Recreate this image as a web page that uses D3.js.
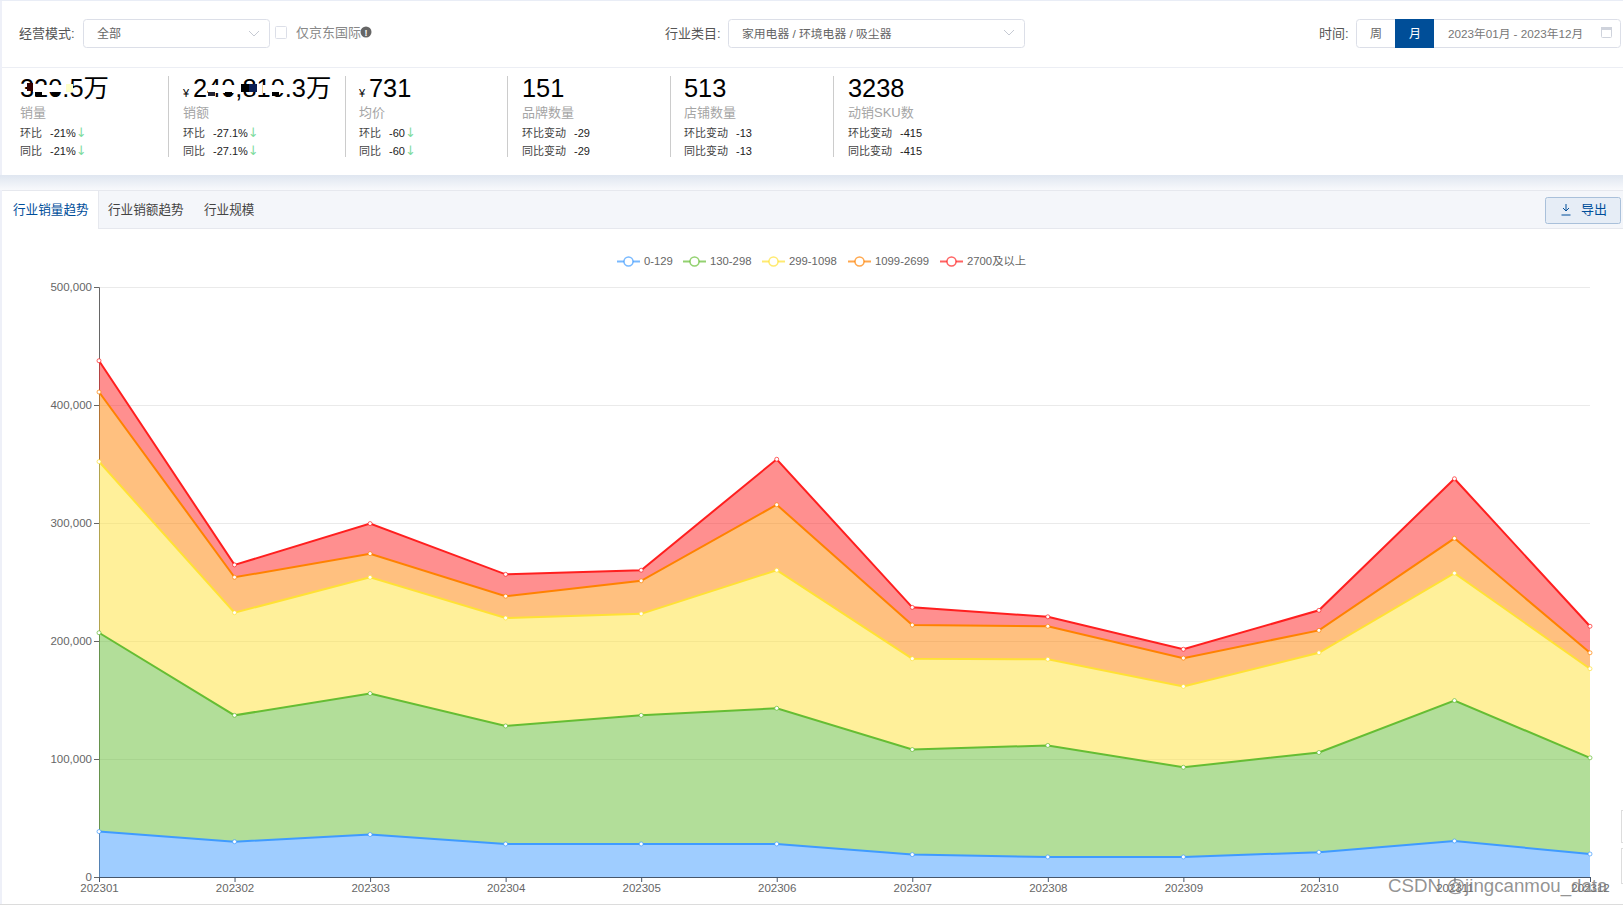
<!DOCTYPE html>
<html>
<head>
<meta charset="utf-8">
<script src="https://cdn.jsdelivr.net/npm/d3@7/dist/d3.min.js"></script>
<style>
	html, body { margin: 0; padding: 0; background: #fff; overflow: hidden; }
	svg { display: block; }
	text { font-family: "Liberation Sans", "Noto Sans CJK SC", sans-serif; }
</style>
</head>
<body>
<div id="chart"></div>
<script>
// chart data
var months = ["202301", "202302", "202303", "202304", "202305", "202306", "202307", "202308", "202309", "202310", "202311", "202312"];
var priceBands = ["0-129", "130-298", "299-1098", "1099-2699", "2700及以上"];
var band0 = [38500, 29900, 36000, 28000, 28000, 28000, 19000, 17000, 17000, 21000, 30500, 19500];
var band1 = [168500, 107100, 119500, 100000, 109000, 115000, 89000, 94500, 76000, 84500, 119000, 81500];
var band2 = [145000, 87000, 98500, 91500, 86000, 117000, 77000, 73000, 68500, 84500, 108000, 75500];
var band3 = [59000, 30000, 20000, 18500, 28000, 55500, 28500, 28000, 24000, 19000, 29500, 13500];
var band4 = [26500, 10500, 25500, 18500, 9000, 38500, 15000, 8000, 7500, 17000, 50500, 22500];
var yTicks = [0, 100000, 200000, 300000, 400000, 500000];

// text of the summary cards
var statValues = ["320.5万", "240,810.3万", "731", "151", "513", "3238"];
var statPrefix = ["", "¥", "¥", "", "", ""];
var statNames = ["销量", "销额", "均价", "品牌数量", "店铺数量", "动销SKU数"];
var statRow1 = ["环比", "环比", "环比", "环比变动", "环比变动", "环比变动"];
var statRow2 = ["同比", "同比", "同比", "同比变动", "同比变动", "同比变动"];
var statDelta = ["-21%", "-27.1%", "-60", "-29", "-13", "-415"];
var tabNames = ["行业销量趋势", "行业销额趋势", "行业规模"];

var width = 1623;
var height = 905;
var margin = { top: 287, right: 33, bottom: 28, left: 99 };

var lineColors = ["#3f9bff", "#65bd33", "#ffe135", "#ff8200", "#ff1f1f"];
var bandSeries = [band0, band1, band2, band3, band4];

var svg = d3.select("#chart").append("svg")
	.attr("width", width)
	.attr("height", height);

function label(parent, x, y, str, size, color, anchor) {
	return parent.append("text")
		.attr("x", x)
		.attr("y", y)
		.attr("font-size", size)
		.attr("fill", color)
		.attr("text-anchor", anchor || "start")
		.text(str);
}

function box(parent, x, y, w, h, fill, stroke, r) {
	return parent.append("rect")
		.attr("x", x + 0.5)
		.attr("y", y + 0.5)
		.attr("width", w)
		.attr("height", h)
		.attr("rx", r || 0)
		.attr("fill", fill)
		.attr("stroke", stroke);
}

// page frame and the filter panel with its shadow
var defs = svg.append("defs");
var shadow = defs.append("linearGradient").attr("id", "panelShadow")
	.attr("x1", 0).attr("x2", 0).attr("y1", 0).attr("y2", 1);
shadow.append("stop").attr("offset", 0).attr("stop-color", "#dfe6f0");
shadow.append("stop").attr("offset", 1).attr("stop-color", "#f8f9fc");

svg.append("rect").attr("width", width).attr("height", height).attr("fill", "#fff");
svg.append("rect").attr("x", 0).attr("y", 0).attr("width", 2).attr("height", height).attr("fill", "#eef0f8");
svg.append("rect").attr("x", 0).attr("y", 0).attr("width", width).attr("height", 1).attr("fill", "#e9edf6");
svg.append("rect").attr("x", 0).attr("y", 175).attr("width", width).attr("height", 15).attr("fill", "url(#panelShadow)");
svg.append("rect").attr("x", 0).attr("y", 904).attr("width", width).attr("height", 1).attr("fill", "#dcdcdc");
svg.append("line").attr("x1", 2).attr("x2", width).attr("y1", 67.5).attr("y2", 67.5).attr("stroke", "#eceef4");

var filters = svg.append("g");
function chevron(x, y) {
	filters.append("path")
		.attr("d", "M" + (x - 5) + "," + (y - 3) + "L" + x + "," + (y + 2) + "L" + (x + 5) + "," + (y - 3))
		.attr("fill", "none")
		.attr("stroke", "#c6cad3");
}

label(filters, 19, 38, "经营模式:", 13, "#555");
box(filters, 83, 19, 186, 28, "#fff", "#dcdfe8", 3);
label(filters, 97, 38, "全部", 12, "#666");
chevron(254, 34);
box(filters, 275, 26, 11, 12, "#fff", "#dcdfe8", 1);
label(filters, 296, 37, "仅京东国际", 13, "#888");
filters.append("circle").attr("cx", 366).attr("cy", 32).attr("r", 5.5).attr("fill", "#666");
label(filters, 366, 36, "!", 9, "#fff", "middle").attr("font-weight", "bold");

label(filters, 665, 38, "行业类目:", 13, "#555");
box(filters, 728, 19, 296, 28, "#fff", "#dcdfe8", 3);
label(filters, 742, 38, "家用电器 / 环境电器 / 吸尘器", 11.8, "#666");
chevron(1009, 33);

label(filters, 1319, 38, "时间:", 13, "#555");
box(filters, 1356, 19, 264, 28, "#fff", "#dcdfe8", 3);
filters.append("rect").attr("x", 1395).attr("y", 19).attr("width", 39).attr("height", 29).attr("fill", "#004e98");
label(filters, 1376, 38, "周", 12, "#666", "middle");
label(filters, 1415, 38, "月", 12, "#fff", "middle");
label(filters, 1448, 38, "2023年01月 - 2023年12月", 11.7, "#777");
box(filters, 1601, 27, 10, 10, "none", "#cfd3dc", 1);
filters.append("rect").attr("x", 1601).attr("y", 27).attr("width", 11).attr("height", 3).attr("fill", "#cfd3dc");

// summary cards
var statX = [20, 183, 359, 522, 684, 848];
var dividerX = [168, 345, 507, 670, 833];
var cards = svg.append("g");

dividerX.forEach(function (x) {
	cards.append("line")
		.attr("x1", x + 0.5).attr("x2", x + 0.5)
		.attr("y1", 76).attr("y2", 157)
		.attr("stroke", "#ccc");
});

statValues.forEach(function (v, i) {
	var x = statX[i];
	var valueX = x;
	if (statPrefix[i]) {
		label(cards, x, 97, statPrefix[i], 11, "#000");
		valueX = x + 10;
	}
	label(cards, valueX, 97, v, 25.4, "#000");
	label(cards, x, 117, statNames[i], 13, "#a5a5a5");

	var isChange = i > 2;
	[statRow1[i], statRow2[i]].forEach(function (rowName, r) {
		var y = 137 + r * 18;
		label(cards, x, y, rowName, 11, "#444");
		var t = label(cards, x + (isChange ? 52 : 30), y, statDelta[i], 11, "#222");
		if (!isChange) {
			t.append("tspan")
				.attr("fill", "#7fdc9f")
				.attr("font-size", 13)
				.style("font-family", "'DejaVu Sans'")
				.text("↓");
		}
	});
});

// the scribbled over parts of the first two figures
var patchX = [33, 66, 27, 35, 52, 208, 241, 249, 263, 208, 225, 272];
var patchY = [85, 84, 83, 92, 92, 85, 84, 84, 85, 92, 92, 92];
var patchW = [33, 7, 6, 7, 7, 32, 8, 8, 28, 7, 7, 7];
var patchH = [7, 8, 8, 4, 4, 8, 8, 8, 8, 4, 4, 4];
var patchC = ["#fff", "#ffffc8", "#300", "#000", "#000", "#fff", "#000", "#0a1f55", "#fff", "#223", "#000", "#000"];
patchX.forEach(function (x, i) {
	cards.append("rect")
		.attr("x", x).attr("y", patchY[i])
		.attr("width", patchW[i]).attr("height", patchH[i])
		.attr("fill", patchC[i]);
});

// tab bar
var tabs = svg.append("g");
tabs.append("rect").attr("x", 2).attr("y", 190).attr("width", width - 2).attr("height", 38).attr("fill", "#f4f6fa");
tabs.append("line").attr("x1", 2).attr("x2", width).attr("y1", 190.5).attr("y2", 190.5).attr("stroke", "#e6e8ee");
tabs.append("line").attr("x1", 2).attr("x2", width).attr("y1", 228.5).attr("y2", 228.5).attr("stroke", "#e6e8ee");
tabs.append("rect").attr("x", 2).attr("y", 191).attr("width", 96).attr("height", 38).attr("fill", "#fff");
tabs.append("line").attr("x1", 98.5).attr("x2", 98.5).attr("y1", 191).attr("y2", 228).attr("stroke", "#e6e8ee");
var tabX = [13, 108, 204];
tabNames.forEach(function (n, i) {
	label(tabs, tabX[i], 214, n, 12.6, i == 0 ? "#004e9a" : "#444");
});
box(tabs, 1545, 197, 75, 26, "#e6edf6", "#a9c0da", 2);
label(tabs, 1581, 214, "导出", 13, "#004e9a");
tabs.append("path")
	.attr("d", "M1566,204v7M1563,208l3,3l3,-3M1561.500,215h9")
	.attr("fill", "none")
	.attr("stroke", "#004e9a");

// scales and axes
var xScale = d3.scalePoint()
	.domain(months)
	.range([margin.left, width - margin.right]);

var yScale = d3.scaleLinear()
	.domain([0, 500000])
	.range([height - margin.bottom, margin.top]);

var plot = svg.append("g");

// horizontal grid lines
plot.selectAll("line.grid")
	.data(yTicks.slice(1))
	.enter().append("line")
		.attr("class", "grid")
		.attr("x1", margin.left)
		.attr("x2", width - margin.right)
		.attr("y1", function (d) { return Math.round(yScale(d)) + 0.5; })
		.attr("y2", function (d) { return Math.round(yScale(d)) + 0.5; })
		.attr("stroke", "#eaeaea");

// Add the y-axis.
var yAxisG = plot.append("g")
	.attr("transform", "translate(" + margin.left + ",0)")
	.call(d3.axisLeft(yScale).tickValues(yTicks).tickFormat(d3.format(",")).tickSize(5).tickPadding(2));
yAxisG.selectAll("path, line").attr("stroke", "#666");
yAxisG.selectAll("text").attr("fill", "#666").attr("font-size", 11.5);

// stack the price bands
var rows = months.map(function (m, i) {
	var row = { month: m };
	priceBands.forEach(function (b, k) { row[b] = bandSeries[k][i]; });
	return row;
});
var stacked = d3.stack().keys(priceBands)(rows);

var area = d3.area()
	.x(function (d) { return xScale(d.data.month); })
	.y0(function (d) { return yScale(d[0]); })
	.y1(function (d) { return yScale(d[1]); });

var topLine = d3.line()
	.x(function (d) { return xScale(d.data.month); })
	.y(function (d) { return yScale(d[1]); });

plot.selectAll("path.band")
	.data(stacked)
	.enter().append("path")
		.attr("class", "band")
		.attr("d", area)
		.attr("fill", function (d, i) { return lineColors[i]; })
		.attr("fill-opacity", 0.5);

plot.selectAll("path.top")
	.data(stacked)
	.enter().append("path")
		.attr("class", "top")
		.attr("d", topLine)
		.attr("fill", "none")
		.attr("stroke", function (d, i) { return lineColors[i]; })
		.attr("stroke-width", 2);

stacked.forEach(function (s, i) {
	plot.selectAll("circle.p" + i)
		.data(s)
		.enter().append("circle")
			.attr("class", "p" + i)
			.attr("cx", function (d) { return xScale(d.data.month); })
			.attr("cy", function (d) { return yScale(d[1]); })
			.attr("r", 2)
			.attr("fill", "#fff")
			.attr("stroke", lineColors[i])
			.attr("stroke-opacity", 0.7);
});

// Add the x-axis.
var xAxisG = plot.append("g")
	.attr("transform", "translate(0," + (height - margin.bottom) + ")")
	.call(d3.axisBottom(xScale).tickSize(5).tickPadding(2));
xAxisG.selectAll("path, line").attr("stroke", "#46566b");
xAxisG.selectAll("text").attr("fill", "#666").attr("font-size", 11.5);

// legend
var legendLineX = [617, 683, 762, 848, 940];
var legend = svg.append("g");
priceBands.forEach(function (b, i) {
	var x = legendLineX[i];
	legend.append("line")
		.attr("x1", x).attr("x2", x + 23)
		.attr("y1", 261.5).attr("y2", 261.5)
		.attr("stroke", lineColors[i])
		.attr("stroke-opacity", 0.7)
		.attr("stroke-width", 2);
	legend.append("circle")
		.attr("cx", x + 11.5).attr("cy", 261.5).attr("r", 4.5)
		.attr("fill", "#fff")
		.attr("stroke", lineColors[i])
		.attr("stroke-opacity", 0.7)
		.attr("stroke-width", 1.5);
	label(legend, x + 27, 265, b, 11.3, "#666");
});

// odd boxes cut off at the right edge of the screenshot
box(svg, 1621, 810, 4, 32, "#fff", "#ddd");
box(svg, 1621, 848, 4, 35, "#fff", "#ddd");

// watermark
label(svg, 1388, 892, "CSDN @jingcanmou_data", 18.7, "#777").attr("fill-opacity", 0.8);
</script>
</body>
</html>
